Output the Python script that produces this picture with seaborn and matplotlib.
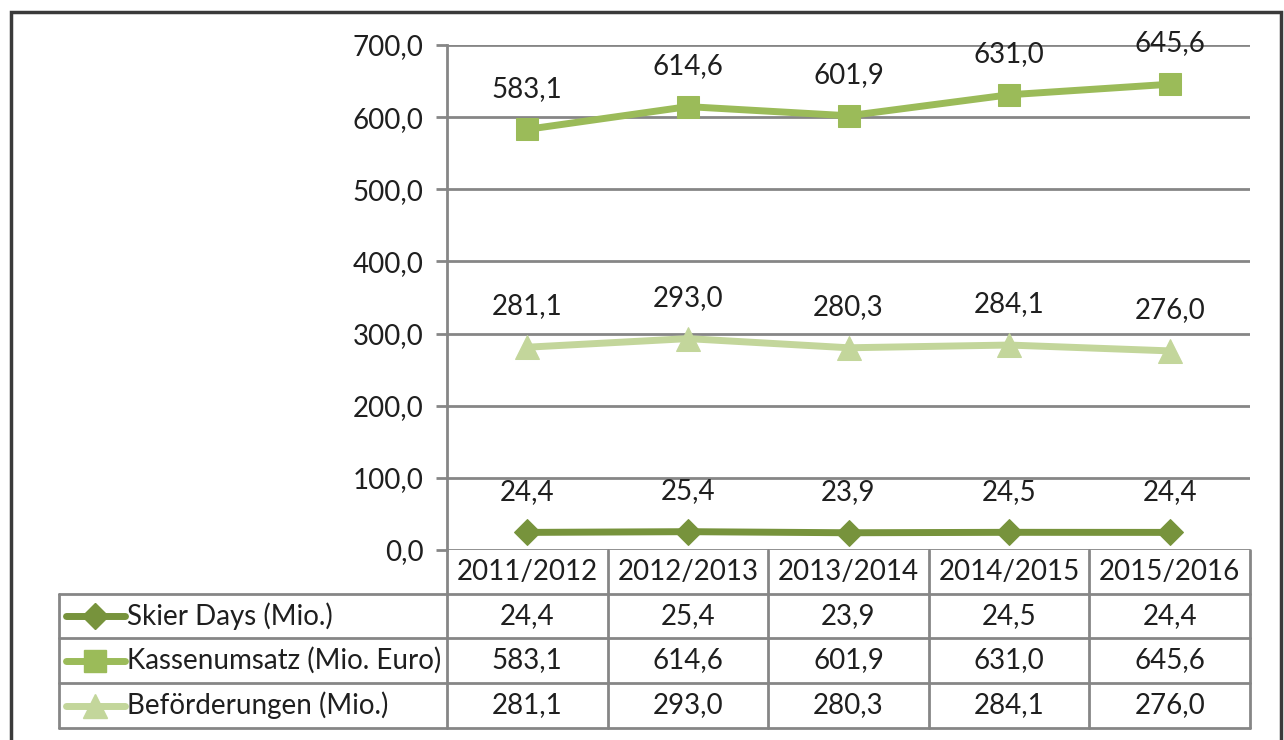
import pandas as pd
import numpy as np
import seaborn as sns
import matplotlib.pyplot as plt
from matplotlib.lines import Line2D
from matplotlib.patches import Rectangle
from matplotlib.transforms import blended_transform_factory

seasons = ["2011/2012", "2012/2013", "2013/2014", "2014/2015", "2015/2016"]
series_names = ["Skier Days (Mio.)", "Kassenumsatz (Mio. Euro)", "Beförderungen (Mio.)"]
skier_days = [24.4, 25.4, 23.9, 24.5, 24.4]
kassenumsatz = [583.1, 614.6, 601.9, 631.0, 645.6]
befoerderungen = [281.1, 293.0, 280.3, 284.1, 276.0]

colors = ["#77933C", "#9BBB59", "#C3D69B"]
markers = ["D", "s", "^"]
msizes = [13, 16, 17]

def fmt(v):
    return f"{v:.1f}".replace(".", ",")

sns.set_style("white")
plt.rcParams["font.family"] = ["Lato", "DejaVu Sans"]
txt_color = "#1f1f1f"
grid_color = "#868686"
fs = 20

fig = plt.figure(figsize=(12.84, 7.40), dpi=100)
ax = fig.add_axes([447 / 1284, 1 - 550 / 740, 803 / 1284, 505 / 740])

values = [skier_days, kassenumsatz, befoerderungen]
x = np.arange(len(seasons))
for name, vals, c, m, ms in zip(series_names, values, colors, markers, msizes):
    df = pd.DataFrame({"x": x, "y": vals})
    sns.lineplot(data=df, x="x", y="y", ax=ax, color=c, marker=m, markersize=ms,
                 markeredgecolor=c, linewidth=5, zorder=3)
    for xi, v in zip(x, vals):
        ax.annotate(fmt(v), (xi, v), xytext=(0, 20), textcoords="offset points",
                    ha="center", va="bottom", fontsize=fs, color=txt_color)

ax.set_xlim(-0.5, 4.5)
ax.set_ylim(0, 700)
ax.set_yticks(np.arange(0, 701, 100))
ax.set_yticklabels([fmt(v) for v in np.arange(0, 701, 100)], fontsize=fs, color=txt_color)
ax.set_xticks([])
ax.set_xlabel("")
ax.set_ylabel("")
ax.grid(axis="y", color=grid_color, linewidth=2)
ax.tick_params(axis="y", length=8, width=2, color=grid_color, pad=9, left=True)
for s in ["top", "right", "bottom"]:
    ax.spines[s].set_visible(False)
ax.spines["left"].set_color(grid_color)
ax.spines["left"].set_linewidth(2)

# data table below the axes
tr = blended_transform_factory(ax.transData, ax.transAxes)
row_edges = [0, -0.0871, -0.1743, -0.2634, -0.3525]
lab_left = (59 - 447) / 803
line_kw = dict(color=grid_color, linewidth=2, clip_on=False)
for k in range(len(seasons) + 1):
    ax.plot([k - 0.5, k - 0.5], [row_edges[0], row_edges[-1]], transform=tr, **line_kw)
for y in row_edges[1:]:
    ax.plot([lab_left, 1], [y, y], transform=ax.transAxes, **line_kw)
ax.plot([lab_left, lab_left], [row_edges[1], row_edges[-1]], transform=ax.transAxes, **line_kw)

for xi, s in zip(x, seasons):
    ax.text(xi, (row_edges[0] + row_edges[1]) / 2, s, transform=tr, ha="center",
            va="center", fontsize=fs, color=txt_color)
for r, (name, vals, c, m, ms) in enumerate(zip(series_names, values, colors, markers, msizes)):
    yc = (row_edges[r + 1] + row_edges[r + 2]) / 2
    for xi, v in zip(x, vals):
        ax.text(xi, yc, fmt(v), transform=tr, ha="center", va="center",
                fontsize=fs, color=txt_color)
    ax.add_line(Line2D([(66 - 447) / 803, (125 - 447) / 803], [yc, yc], transform=ax.transAxes,
                       color=c, linewidth=5, clip_on=False))
    ax.add_line(Line2D([(95 - 447) / 803], [yc], transform=ax.transAxes, color=c, marker=m,
                       markersize=ms, markeredgecolor=c, linestyle="none", clip_on=False))
    ax.text((127 - 447) / 803, yc, name, transform=ax.transAxes, ha="left", va="center",
            fontsize=fs, color=txt_color)

# outer frame
fig.add_artist(Rectangle((11 / 1284, -0.05), 1270 / 1284, 1 - 12 / 740 + 0.05,
                         transform=fig.transFigure, fill=False, edgecolor="#3a3a3a",
                         linewidth=2.5))

fig.savefig("out.png", dpi=100)
